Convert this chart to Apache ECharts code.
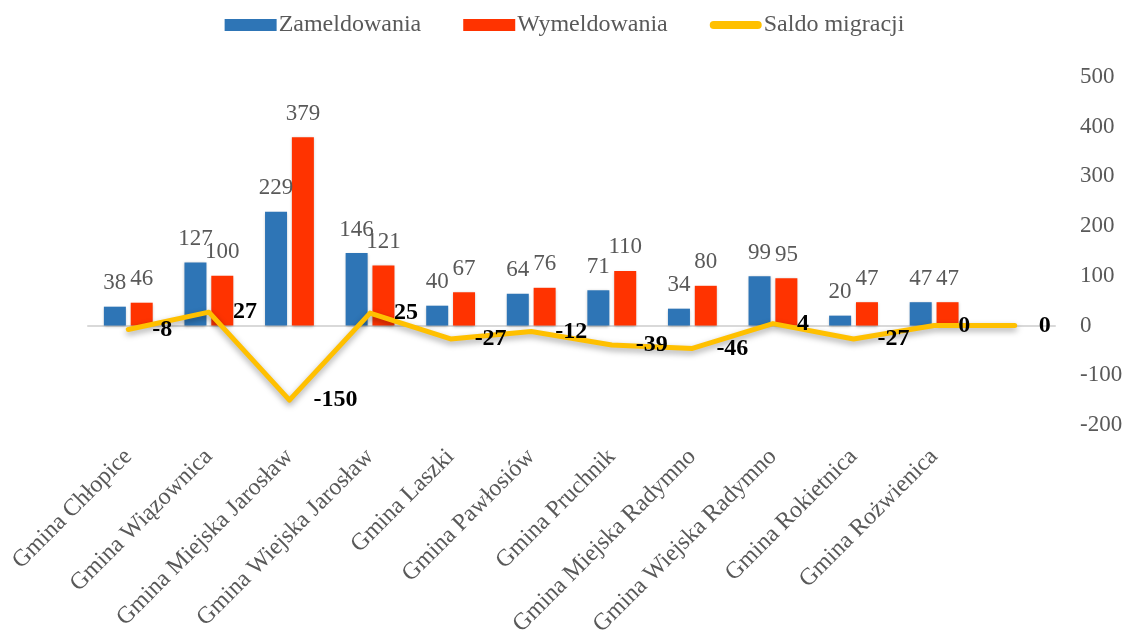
<!DOCTYPE html>
<html>
<head>
    <meta charset="utf-8">
    <title>Migracje</title>
    <script src="https://cdn.jsdelivr.net/npm/echarts@6/dist/echarts.min.js"></script>
    <style>
        html, body { margin: 0; padding: 0; background: #fff; }
        #main { width: 1129px; height: 632px; }
    </style>
</head>
<body>
    <div id="main"></div>
    <script type="text/javascript">
        // dane z wykresu
        var gminy = ['Gmina Chłopice', 'Gmina Wiązownica', 'Gmina Miejska Jarosław', 'Gmina Wiejska Jarosław',
            'Gmina Laszki', 'Gmina Pawłosiów', 'Gmina Pruchnik', 'Gmina Miejska Radymno',
            'Gmina Wiejska Radymno', 'Gmina Rokietnica', 'Gmina Rożwienica', ''];
        var zameldowania = [38, 127, 229, 146, 40, 64, 71, 34, 99, 20, 47, null];
        var wymeldowania = [46, 100, 379, 121, 67, 76, 110, 80, 95, 47, 47, null];
        var saldo = [-8, 27, -150, 25, -27, -12, -39, -46, 4, -27, 0, 0];

        var font = 'Liberation Serif, DejaVu Serif, serif';
        var grey = '#595959';

        var myChart = echarts.init(document.getElementById('main'));

        var option = {
            backgroundColor: '#fff',
            legend: {
                top: 8,
                left: 'center',
                itemGap: 42,
                itemWidth: 52,
                itemHeight: 12,
                textStyle: { fontFamily: font, fontSize: 24, color: grey, padding: [0, 0, 0, -3] },
                data: [
                    { name: 'Zameldowania', icon: 'rect' },
                    { name: 'Wymeldowania', icon: 'rect' },
                    {
                        name: 'Saldo migracji',
                        icon: 'path://M4,0 H48 A4,4 0 0 1 48,8 H4 A4,4 0 0 1 4,0 Z',
                        itemStyle: { color: '#ffc000', opacity: 1 }
                    }
                ]
            },
            grid: { left: 88, right: 74, top: 77, bottom: 207, outerBoundsMode: 'none', containLabel: false },
            xAxis: {
                type: 'category',
                data: gminy,
                axisLine: { lineStyle: { color: '#d9d9d9', width: 2 } },
                axisTick: { show: false },
                axisLabel: {
                    rotate: 45,
                    interval: 0,
                    margin: 28,
                    fontFamily: font,
                    fontSize: 24,
                    color: grey
                }
            },
            yAxis: {
                type: 'value',
                position: 'right',
                min: -200,
                max: 500,
                interval: 100,
                axisLine: { show: false },
                axisTick: { show: false },
                splitLine: { show: false },
                axisLabel: {
                    margin: 25,
                    align: 'left',
                    fontFamily: font,
                    fontSize: 23,
                    color: grey
                }
            },
            series: [
                {
                    name: 'Zameldowania',
                    type: 'bar',
                    data: zameldowania,
                    barWidth: 22,
                    barGap: '22%',
                    itemStyle: { color: '#2e75b6', shadowBlur: 3, shadowColor: 'rgba(0,0,0,0.25)', shadowOffsetY: 1 },
                    label: { show: true, position: 'top', distance: 12, fontFamily: font, fontSize: 23, color: grey }
                },
                {
                    name: 'Wymeldowania',
                    type: 'bar',
                    data: wymeldowania,
                    barWidth: 22,
                    itemStyle: { color: '#ff3300', shadowBlur: 3, shadowColor: 'rgba(0,0,0,0.25)', shadowOffsetY: 1 },
                    label: { show: true, position: 'top', distance: 12, fontFamily: font, fontSize: 23, color: grey }
                },
                {
                    name: 'Saldo migracji',
                    type: 'line',
                    data: saldo,
                    symbol: 'circle',
                    symbolSize: 2,
                    showSymbol: true,
                    lineStyle: {
                        color: '#ffc000', width: 5, cap: 'round', join: 'round',
                        shadowBlur: 6, shadowColor: 'rgba(0,0,0,0.35)', shadowOffsetY: 3
                    },
                    itemStyle: { color: '#ffc000' },
                    label: {
                        show: true,
                        position: 'right',
                        distance: 23,
                        offset: [0, 2],
                        fontFamily: font,
                        fontWeight: 'bold',
                        fontSize: 24,
                        color: '#000'
                    },
                    labelLayout: { hideOverlap: false }
                }
            ]
        };

        myChart.setOption(option);
    </script>
</body>
</html>
